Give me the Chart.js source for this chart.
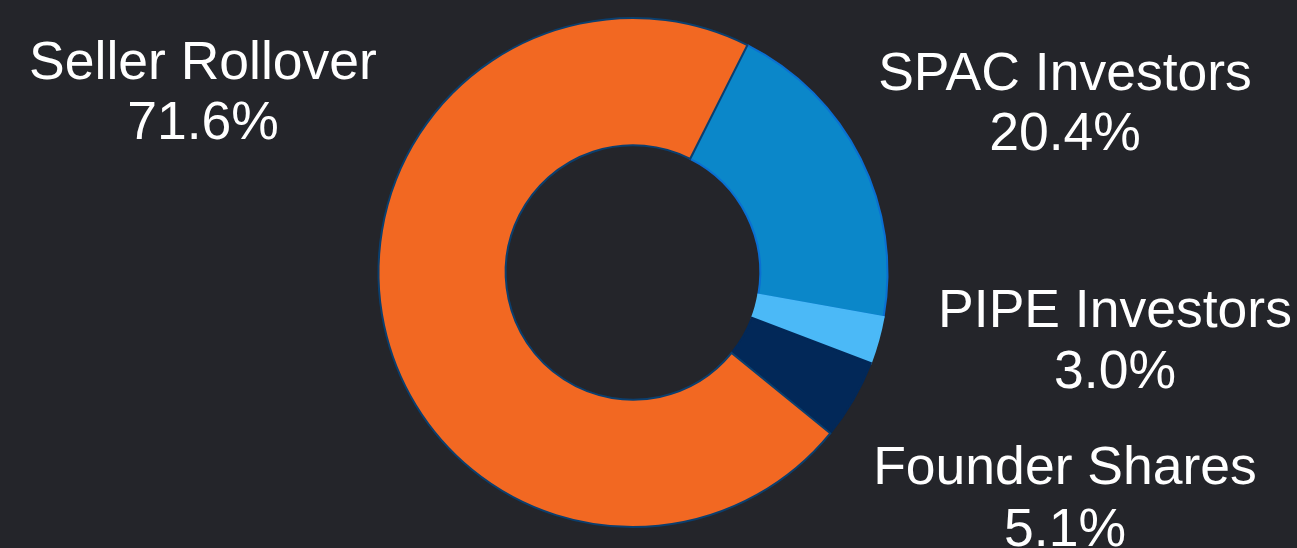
<!DOCTYPE html>
<html>
<head>
<meta charset="utf-8">
<script src="https://cdn.jsdelivr.net/npm/chart.js@4"></script>
<style>
  html, body { margin: 0; padding: 0; background: #24252a; }
  #wrap { width: 1297px; height: 548px; position: relative; }
</style>
</head>
<body>
<div id="wrap"><canvas id="c" width="1297" height="548"></canvas></div>
<script>
const categories = ["SPAC Investors", "PIPE Investors", "Founder Shares", "Seller Rollover"];
const shares = [20.4, 3.0, 5.1, 71.6];
const sliceColors = ["#0b87c9", "#4bb9f7", "#022858", "#f26822"];
const sliceBorders = ["#0a6fd2", "#4bb9f7", "#022858", "#0b3f6e"];
// label anchor positions (text placement only)
const labelAnchors = [
  { x: 1065, y1: 90, y2: 150 },
  { x: 1115, y1: 327, y2: 388 },
  { x: 1065, y1: 484, y2: 546 },
  { x: 203, y1: 79, y2: 139 }
];

const outsideLabels = {
  id: 'outsideLabels',
  afterDraw(chart) {
    const ctx = chart.ctx;
    ctx.save();
    ctx.fillStyle = '#ffffff';
    ctx.font = '53.5px "Liberation Sans", Arial, sans-serif';
    ctx.textAlign = 'center';
    ctx.textBaseline = 'alphabetic';
    chart.data.labels.forEach((lab, i) => {
      const a = labelAnchors[i];
      const v = chart.data.datasets[0].data[i];
      ctx.fillText(lab, a.x, a.y1);
      ctx.fillText(v.toFixed(1) + '%', a.x, a.y2);
    });
    ctx.restore();
  }
};

new Chart(document.getElementById('c'), {
  type: 'doughnut',
  data: {
    labels: categories,
    datasets: [{
      data: shares,
      backgroundColor: sliceColors,
      borderColor: sliceBorders,
      borderWidth: 2,
      borderJoinStyle: 'miter'
    }]
  },
  options: {
    responsive: false,
    animation: false,
    rotation: 26.7,
    cutout: '50%',
    layout: { padding: { top: 17, bottom: 20, left: 0, right: 31 } },
    plugins: {
      legend: { display: false },
      tooltip: { enabled: false }
    }
  },
  plugins: [outsideLabels]
});
</script>
</body>
</html>
